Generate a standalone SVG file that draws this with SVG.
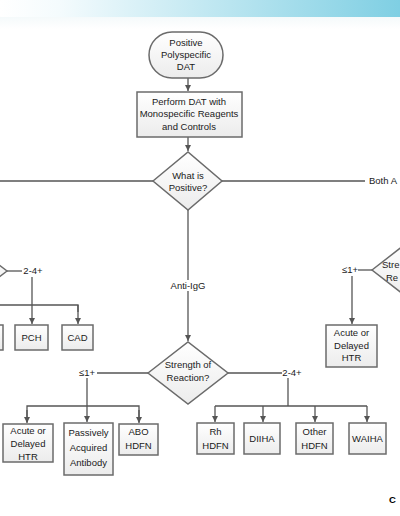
<svg xmlns="http://www.w3.org/2000/svg" width="400" height="516" viewBox="0 0 400 516">
<defs>
<linearGradient id="band" x1="0" y1="0" x2="1" y2="0">
<stop offset="0" stop-color="#ffffff"/>
<stop offset="0.15" stop-color="#f4fbfd"/>
<stop offset="1" stop-color="#7fcfe3"/>
</linearGradient>
<linearGradient id="shadow" x1="0" y1="0" x2="0" y2="1">
<stop offset="0" stop-color="#eef6f8"/>
<stop offset="1" stop-color="#ffffff"/>
</linearGradient>
<linearGradient id="boxfill" x1="0" y1="0" x2="0" y2="1">
<stop offset="0" stop-color="#ffffff"/>
<stop offset="1" stop-color="#ececec"/>
</linearGradient>
<marker id="arr" markerUnits="userSpaceOnUse" markerWidth="7" markerHeight="7" refX="6" refY="3.5" orient="auto">
<path d="M0,0.5 L6,3.5 L0,6.5 z" fill="#555"/>
</marker>
</defs>
<style>
.box{fill:url(#boxfill);stroke:#6b6b6b;stroke-width:1.5}
.t{font-family:"Liberation Sans",Arial,sans-serif;font-size:9.5px;fill:#1a1a1a;text-anchor:middle}
.lb{font-family:"Liberation Sans",Arial,sans-serif;font-size:9.5px;fill:#1a1a1a}
.c{stroke:#555;stroke-width:1.3;fill:none}
.a{marker-end:url(#arr)}
</style>
<rect x="0" y="0" width="400" height="17" fill="url(#band)"/>
<rect x="0" y="17" width="400" height="12" fill="url(#shadow)" opacity="0.6"/>

<g id="connectors">
<line class="c a" x1="188" y1="78" x2="188" y2="91"/>
<line class="c a" x1="188" y1="137" x2="188" y2="151"/>
<line class="c" x1="153" y1="181" x2="0" y2="181"/>
<line class="c" x1="222" y1="181" x2="365" y2="181"/>
<line class="c a" x1="188" y1="210" x2="188" y2="341"/>
<rect x="168" y="280" width="40" height="11" fill="#fff"/>
<text class="t" x="188" y="289">Anti-IgG</text>
<line class="c" x1="148" y1="373" x2="97" y2="373"/>
<line class="c a" x1="87" y1="378" x2="87" y2="422"/>
<polyline class="c" points="27,422 27,406 139,406 139,422"/>
<line class="c a" x1="27" y1="410" x2="27" y2="423"/>
<line class="c a" x1="139" y1="410" x2="139" y2="423"/>
<line class="c" x1="228" y1="373" x2="282" y2="373"/>
<line class="c" x1="288" y1="378" x2="288" y2="406"/>
<line class="c" x1="215" y1="406" x2="367" y2="406"/>
<line class="c a" x1="215" y1="406" x2="215" y2="422"/>
<line class="c a" x1="263" y1="406" x2="263" y2="422"/>
<line class="c a" x1="315" y1="406" x2="315" y2="422"/>
<line class="c a" x1="367" y1="406" x2="367" y2="422"/>
<line class="c" x1="7" y1="271" x2="22" y2="271"/>
<line class="c a" x1="32" y1="277" x2="32" y2="324"/>
<polyline class="c" points="0,305 78,305 78,312"/>
<line class="c a" x1="78" y1="305" x2="78" y2="324"/>
<line class="c" x1="358" y1="270" x2="372" y2="270"/>
<line class="c a" x1="352" y1="276" x2="352" y2="324"/>
</g>

<g id="labels">
<text class="lb" x="369" y="184">Both A</text>
<text class="t" x="87" y="376">≤1+</text>
<text class="t" x="292" y="376">2-4+</text>
<text class="t" x="33" y="274">2-4+</text>
<text class="t" x="350" y="273">≤1+</text>
</g>

<g id="start">
<rect class="box" x="149" y="32" width="74" height="46" rx="23"/>
<text class="t" x="186" y="46">Positive</text>
<text class="t" x="186" y="58">Polyspecific</text>
<text class="t" x="186" y="70">DAT</text>
</g>
<g id="perform">
<rect class="box" x="137" y="92" width="105" height="45"/>
<text class="t" x="189" y="105">Perform DAT with</text>
<text class="t" x="189" y="117">Monospecific Reagents</text>
<text class="t" x="189" y="130">and Controls</text>
</g>
<g id="whatis">
<polygon class="box" points="153,181 188,152 222,181 188,210"/>
<text class="t" x="188" y="179">What is</text>
<text class="t" x="188" y="191">Positive?</text>
</g>
<g id="strength">
<polygon class="box" points="148,373 188,342 228,373 188,404"/>
<text class="t" x="188" y="368">Strength of</text>
<text class="t" x="188" y="381">Reaction?</text>
</g>
<g id="leftdiamond">
<polygon class="box" points="-73,271 -33,240 7,271 -33,302"/>
</g>
<g id="rightdiamond">
<polygon class="box" points="372,270 412,239 452,270 412,301"/>
<text class="lb" x="382" y="268">Stre</text>
<text class="lb" x="386" y="281">Re</text>
</g>
<g id="leftbox">
<rect class="box" x="-30" y="325" width="33" height="25"/>
</g>
<g id="pch">
<rect class="box" x="15" y="325" width="33" height="25"/>
<text class="t" x="31.5" y="341">PCH</text>
</g>
<g id="cad">
<rect class="box" x="62" y="325" width="31" height="25"/>
<text class="t" x="77.5" y="341">CAD</text>
</g>
<g id="htr-right">
<rect class="box" x="326" y="325" width="51" height="42"/>
<text class="t" x="351.5" y="336">Acute or</text>
<text class="t" x="351.5" y="349">Delayed</text>
<text class="t" x="351.5" y="361">HTR</text>
</g>
<g id="htr">
<rect class="box" x="3" y="424" width="50" height="38"/>
<text class="t" x="28" y="434">Acute or</text>
<text class="t" x="28" y="447">Delayed</text>
<text class="t" x="28" y="460">HTR</text>
</g>
<g id="passive">
<rect class="box" x="64" y="423" width="49" height="52"/>
<text class="t" x="88.5" y="436">Passively</text>
<text class="t" x="88.5" y="451">Acquired</text>
<text class="t" x="88.5" y="466">Antibody</text>
</g>
<g id="abo">
<rect class="box" x="119" y="424" width="39" height="31"/>
<text class="t" x="138.5" y="435">ABO</text>
<text class="t" x="138.5" y="449">HDFN</text>
</g>
<g id="rh">
<rect class="box" x="197" y="423" width="37" height="31"/>
<text class="t" x="215.5" y="435">Rh</text>
<text class="t" x="215.5" y="449">HDFN</text>
</g>
<g id="diiha">
<rect class="box" x="244" y="423" width="36" height="31"/>
<text class="t" x="262" y="442">DIIHA</text>
</g>
<g id="other">
<rect class="box" x="296" y="423" width="37" height="31"/>
<text class="t" x="314.5" y="435">Other</text>
<text class="t" x="314.5" y="449">HDFN</text>
</g>
<g id="waiha">
<rect class="box" x="349" y="423" width="37" height="31"/>
<text class="t" x="367.5" y="442">WAIHA</text>
</g>
<text x="389" y="503" font-family="Liberation Sans, Arial, sans-serif" font-size="9.5" font-weight="bold" fill="#000">C</text>
</svg>
